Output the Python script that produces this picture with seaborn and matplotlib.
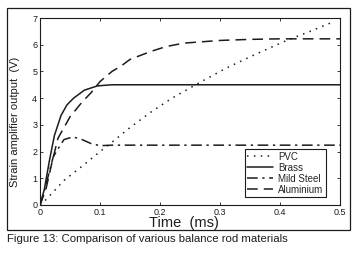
import matplotlib
matplotlib.use("Agg")
import matplotlib.pyplot as plt
import pandas as pd
import seaborn as sns
from matplotlib.patches import Rectangle

# values
pvc_t = [0.0, 0.01, 0.04, 0.07, 0.10, 0.12, 0.15, 0.185, 0.22, 0.265, 0.31, 0.36, 0.41, 0.45, 0.485]
pvc_v = [0.0, 0.2, 0.92, 1.45, 2.0, 2.35, 2.9, 3.48, 4.0, 4.57, 5.12, 5.65, 6.15, 6.5, 6.82]

brass_t = [0.0, 0.007, 0.016, 0.024, 0.035, 0.045, 0.056, 0.074, 0.096, 0.12, 0.2, 0.5]
brass_v = [0.0, 0.56, 1.7, 2.6, 3.35, 3.75, 4.0, 4.3, 4.46, 4.5, 4.5, 4.5]

steel_t = [0.0, 0.007, 0.015, 0.022, 0.03, 0.04, 0.055, 0.07, 0.085, 0.1, 0.12, 0.5]
steel_v = [0.0, 0.5, 1.2, 1.8, 2.1, 2.45, 2.55, 2.45, 2.3, 2.22, 2.24, 2.24]

alu_t = [0.0, 0.01, 0.02, 0.03, 0.05, 0.07, 0.085, 0.1, 0.12, 0.135, 0.15, 0.185, 0.21, 0.24, 0.3, 0.35, 0.4, 0.5]
alu_v = [0.0, 0.6, 1.6, 2.5, 3.3, 3.85, 4.2, 4.62, 5.0, 5.2, 5.45, 5.75, 5.93, 6.06, 6.16, 6.2, 6.22, 6.22]

materials = ["PVC", "Brass", "Mild Steel", "Aluminium"]
series = [(pvc_t, pvc_v), (brass_t, brass_v), (steel_t, steel_v), (alu_t, alu_v)]
styles = [(0, (1, 3.5)), "-", (0, (7, 3, 1.5, 3)), (0, (7, 4))]

sns.set_style("ticks")
plt.rcParams["font.family"] = ["Liberation Sans", "DejaVu Sans"]

ink = "#1c1c1c"
fig = plt.figure(figsize=(3.63, 2.56), dpi=100)
ax = fig.add_axes([40 / 363, 1 - 205 / 256, 300 / 363, 187 / 256])

for name, (t, v), ls in zip(materials, series, styles):
    df = pd.DataFrame({"t": t, "v": v})
    sns.lineplot(data=df, x="t", y="v", ax=ax, color=ink, linestyle=ls,
                 linewidth=1.1, label=name, sort=False, estimator=None)

ax.set_xlim(0, 0.5)
ax.set_ylim(0, 7)
ax.set_xticks([0, 0.1, 0.2, 0.3, 0.4, 0.5])
ax.set_xticklabels(["0", "0.1", "0.2", "0.3", "0.4", "0.5"])
ax.set_yticks(range(8))
ax.tick_params(direction="in", length=2.5, width=0.6, labelsize=6.5, colors=ink,
               top=True, right=True, pad=2)
for s in ax.spines.values():
    s.set_linewidth(0.8)
    s.set_color(ink)
ax.set_xlabel("Time  (ms)", fontsize=10.5, labelpad=-2, color=ink)
ax.xaxis.set_label_coords(0.48, -0.06)
ax.set_ylabel("Strain amplifier output  (V)", fontsize=8, color=ink)
ax.yaxis.set_label_coords(-0.065, 0.445)

leg = ax.legend(loc="lower right", bbox_to_anchor=(0.953, 0.043), fontsize=7,
                handlelength=2.7, handletextpad=0.5, borderpad=0.25,
                labelspacing=0.1, borderaxespad=0, fancybox=False,
                framealpha=1, edgecolor=ink)
leg.get_frame().set_linewidth(0.8)

fig.patches.append(Rectangle((7 / 363, 1 - 230 / 256), 343 / 363, 222 / 256,
                             transform=fig.transFigure, fill=False,
                             edgecolor=ink, linewidth=0.9))
fig.text(7 / 363, 1 - 239 / 256, "Figure 13: Comparison of various balance rod materials",
         fontsize=8.2, va="center", ha="left", color=ink)

fig.savefig("out.png", dpi=100)
plt.close(fig)
